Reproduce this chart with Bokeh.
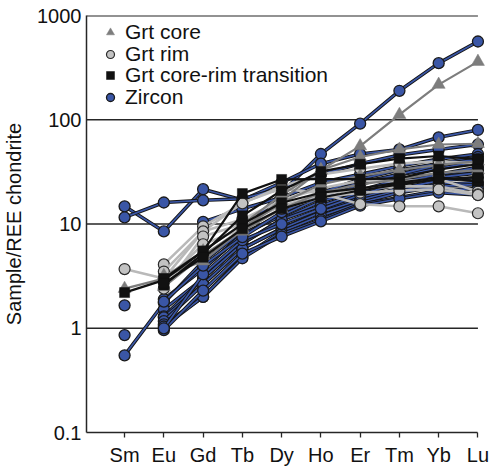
import math
from bokeh.plotting import figure
from bokeh.models import Range1d, FixedTicker, Legend, LegendItem, ColumnDataSource
from bokeh.embed import file_html
from bokeh.resources import INLINE

NaN = float("nan")

elements = ["Sm", "Eu", "Gd", "Tb", "Dy", "Ho", "Er", "Tm", "Yb", "Lu"]
y_ticks = [0.1, 1, 10, 100, 1000]
y_tick_labels = ["0.1", "1", "10", "100", "1000"]

# Sm, Eu, Gd, Tb, Dy, Ho, Er, Tm, Yb, Lu
zircon = [
    [0.55, 1.75, 4.4, 8.5, 20, 47, 92, 190, 350, 565],
    [14.8, 8.5, 21.6, 17, 25, 38, 47, 52, 68, 80],
    [11.6, 16.1, 16.9, 17.5, 22, 30, 38, 46, 52, 58],
    [1.66, NaN, 10.5, 14, 18, 25, 30, 36, 42, 47],
    [0.86, NaN, 3.7, 8, 12.4, 20, 27, 33, 38, 44],
    [NaN, 1.9, 3.7, 8, 12, 18, 24, 30, 34, 40],
    [NaN, 1.52, 3.0, 6.5, 11.1, 16.5, 21, 27, 30, 33],
    [NaN, 1.3, 3.0, 6.5, 11, 15, 20, 24, 28, 31],
    [NaN, 1.27, 2.64, 5.8, 9.1, 13.2, 18, 22, 26, 28],
    [NaN, 1.17, 2.64, 5.8, 9, 13, 17, 21, 24, 25],
    [NaN, 1.09, 2.0, 4.8, 8.5, 12, 16, 20, 23, 24],
    [NaN, 1.04, 2.0, 4.7, 8, 11, 15.5, 18, 21, 22],
    [NaN, 0.96, 2.3, 5.2, 7.6, 10.6, 15, 17.5, 20, 19],
    [NaN, 1.0, 3.3, 7, 10, 14, 19, 25, 30, 35],
    [NaN, 1.8, 4.0, 7.5, 13, 19, 25, 30, 37, 42],
]
grt_rim = [
    [3.7, 3.0, 8.5, 16, 22, 19.7, 15.5, 14.8, 14.8, 12.7],
    [NaN, 4.1, 9.5, 15.8, 23, 30, 34, 38, 40, 38],
    [NaN, 3.5, 8.5, 11.1, 17, 22, 26, 25.7, 27, 20.5],
    [NaN, 2.4, 7.6, 10, 15, 19, 22, 23, 23, 19.3],
    [NaN, 2.8, 6.4, 9, 14, 18, 20, 21, 21.5, 19],
]
grt_core = [
    [2.4, 3.0, 5, 9, 17, 33, 56, 112, 218, 362],
    [NaN, 3.1, 5.5, 10, 19, 33, 44, 52, 58, 59],
    [NaN, 3.2, 4.4, 9, 16, 24, 29, 33, 37, 40],
    [NaN, 2.5, 5.0, 8.5, 14, 20, 24, 27, 31, 33],
]
grt_transition = [
    [2.2, 2.9, 5.5, 19.6, 26.8, 27, 27, 27.5, 33.5, 37.5],
    [NaN, 2.6, 5.2, 12, 21, 32, 37.5, 42.5, 45, 42],
    [NaN, 3.0, 5.5, 10, 16, 20, 22, 25, 28, 25.7],
    [NaN, 2.7, 4.8, 9, 14, 18, 21, 24, 27, 28],
]
legend_labels = ["Grt core", "Grt rim", "Grt core-rim transition", "Zircon"]

FONT = "Liberation Sans"
AX = "#262626"
BLUE = "#3a56a6"

x_idx = list(range(len(elements)))
X_START = -0.97
X_LAST = x_idx[-1]

p = figure(width=493, height=468, output_backend="svg", toolbar_location=None,
           x_range=Range1d(X_START, 9.32), y_range=Range1d(0.1, 1003),
           y_axis_type="log", min_border_left=86, min_border_right=3,
           min_border_top=15, min_border_bottom=36)
p.outline_line_color = None
p.background_fill_color = "white"
p.border_fill_color = "white"

# axes
xa = p.xaxis[0]
xa.ticker = FixedTicker(ticks=x_idx)
xa.major_label_overrides = {i: e for i, e in zip(x_idx, elements)}
xa.bounds = (X_START, X_LAST)
xa.major_tick_out = 5
xa.major_tick_in = 0
xa.minor_tick_out = 0
xa.minor_tick_in = 0
xa.major_label_standoff = 6
xa.axis_line_color = AX
xa.axis_line_width = 1.5
xa.major_tick_line_color = AX
xa.major_tick_line_width = 1.3
xa.major_label_text_font = FONT
xa.major_label_text_font_size = "20px"
xa.major_label_text_color = "#111111"

ya = p.yaxis[0]
ya.ticker = FixedTicker(ticks=y_ticks)
ya.major_label_overrides = {t: s for t, s in zip(y_ticks, y_tick_labels)}
ya.major_tick_out = 0
ya.major_tick_in = 0
ya.minor_tick_out = 0
ya.minor_tick_in = 0
ya.major_label_standoff = 5
ya.axis_line_color = AX
ya.axis_line_width = 1.5
ya.major_label_text_font = FONT
ya.major_label_text_font_size = "20px"
ya.major_label_text_color = "#111111"
ya.axis_label = "Sample/REE chondrite"
ya.axis_label_text_font = FONT
ya.axis_label_text_font_size = "20px"
ya.axis_label_text_font_style = "normal"
ya.axis_label_text_color = "#111111"
ya.axis_label_standoff = 9

# horizontal decade grid lines ending at the last category (as in the original)
p.xgrid.visible = False
p.ygrid.visible = False
grid_y = y_ticks[1:]
p.segment(x0=[X_START] * len(grid_y), x1=[X_LAST] * len(grid_y), y0=grid_y, y1=grid_y,
          line_color=AX, line_width=1.5)

first = {}

def draw(series_list, key, kind):
    for vals in series_list:
        src = ColumnDataSource(dict(x=x_idx, y=vals))
        if kind == "zircon":
            p.line("x", "y", source=src, line_color="#151515", line_width=3.6)
            p.line("x", "y", source=src, line_color=BLUE, line_width=1.7)
            r = p.scatter("x", "y", source=src, marker="circle", size=11,
                          fill_color=BLUE, line_color="#1a1a1a", line_width=1.3)
        elif kind == "rim":
            p.line("x", "y", source=src, line_color="#b9b9b9", line_width=2.6)
            r = p.scatter("x", "y", source=src, marker="circle", size=11,
                          fill_color="#c3c3c3", line_color="#2a2a2a", line_width=1.2)
        elif kind == "core":
            p.line("x", "y", source=src, line_color="#7d7d7d", line_width=2.2)
            r = p.scatter("x", "y", source=src, marker="triangle", size=13,
                          fill_color="#7d7d7d", line_color="#7d7d7d", line_width=0.5)
        else:
            p.line("x", "y", source=src, line_color="#111111", line_width=2.2)
            r = p.scatter("x", "y", source=src, marker="square", size=10,
                          fill_color="#111111", line_color="#111111", line_width=0.5)
        first.setdefault(key, r)

draw(zircon, "Zircon", "zircon")
draw(grt_rim, "Grt rim", "rim")
draw(grt_core, "Grt core", "core")
draw(grt_transition, "Grt core-rim transition", "trans")

# one legend box per entry so the row pitch matches the original (~21.7 px)
ROW_PITCH = 21.7
TOP_ROW_Y = 388  # bottom of first legend box, px above the frame bottom
for k, lab in enumerate(legend_labels):
    lg = Legend(items=[LegendItem(label=lab, renderers=[first[lab]])],
                location=(9, TOP_ROW_Y - k * ROW_PITCH))
    lg.margin = 0
    lg.padding = 0
    lg.spacing = 0
    lg.glyph_width = 30
    lg.glyph_height = 20
    lg.label_height = 20
    lg.label_standoff = 0
    lg.label_text_font = FONT
    lg.label_text_font_size = "21px"
    lg.label_text_color = "#111111"
    lg.background_fill_alpha = 0
    lg.border_line_alpha = 0
    p.add_layout(lg)

open("out.html", "w").write(file_html(p, INLINE))
